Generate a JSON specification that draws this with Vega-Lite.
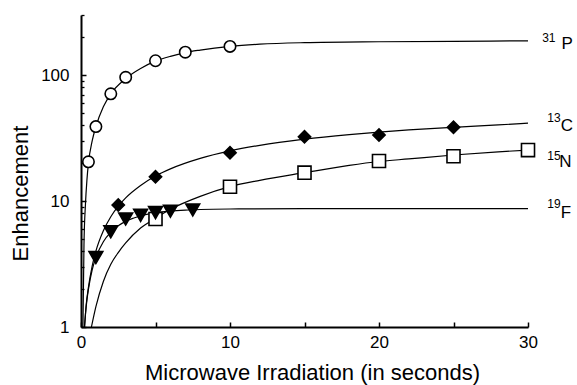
{
  "$schema": "https://vega.github.io/schema/vega-lite/v6.json",
  "width": 447,
  "height": 312,
  "autosize": "none",
  "padding": {"left": 81, "top": 15, "right": 49, "bottom": 58},
  "config": {
    "view": {"stroke": null},
    "font": "Liberation Sans",
    "axis": {"labelFont": "Liberation Sans", "titleFont": "Liberation Sans", "labelColor": "black", "titleColor": "black", "domainColor": "black", "tickColor": "black", "grid": false, "titleFontWeight": "normal"}
  },
  "resolve": {"axis": {"y": "independent"}},
  "layer": [
    {
      "data": {"values": [
        {"s": "31P", "t": 0.13, "E": 1}, {"s": "31P", "t": 0.2, "E": 4.5}, {"s": "31P", "t": 0.3, "E": 9.5}, {"s": "31P", "t": 0.4, "E": 14.8}, {"s": "31P", "t": 0.5, "E": 20}, {"s": "31P", "t": 0.75, "E": 30}, {"s": "31P", "t": 1, "E": 39}, {"s": "31P", "t": 1.5, "E": 56}, {"s": "31P", "t": 2, "E": 71}, {"s": "31P", "t": 3, "E": 94}, {"s": "31P", "t": 4, "E": 113}, {"s": "31P", "t": 5, "E": 129}, {"s": "31P", "t": 6, "E": 141}, {"s": "31P", "t": 7, "E": 151}, {"s": "31P", "t": 8, "E": 158}, {"s": "31P", "t": 10, "E": 169}, {"s": "31P", "t": 12, "E": 176}, {"s": "31P", "t": 15, "E": 181}, {"s": "31P", "t": 20, "E": 184}, {"s": "31P", "t": 25, "E": 185.5}, {"s": "31P", "t": 30, "E": 187},
        {"s": "13C", "t": 0.24, "E": 1}, {"s": "13C", "t": 0.35, "E": 1.5}, {"s": "13C", "t": 0.5, "E": 2.07}, {"s": "13C", "t": 0.75, "E": 3.05}, {"s": "13C", "t": 1, "E": 4.0}, {"s": "13C", "t": 1.5, "E": 5.8}, {"s": "13C", "t": 2, "E": 7.5}, {"s": "13C", "t": 2.5, "E": 9.1}, {"s": "13C", "t": 3, "E": 10.6}, {"s": "13C", "t": 4, "E": 13.3}, {"s": "13C", "t": 5, "E": 15.8}, {"s": "13C", "t": 6, "E": 18}, {"s": "13C", "t": 8, "E": 21.8}, {"s": "13C", "t": 10, "E": 25}, {"s": "13C", "t": 12, "E": 27.7}, {"s": "13C", "t": 15, "E": 31}, {"s": "13C", "t": 18, "E": 33.7}, {"s": "13C", "t": 20, "E": 35.3}, {"s": "13C", "t": 22, "E": 36.7}, {"s": "13C", "t": 25, "E": 38.5}, {"s": "13C", "t": 28, "E": 40.2}, {"s": "13C", "t": 30, "E": 41.5},
        {"s": "15N", "t": 0.7, "E": 1}, {"s": "15N", "t": 1, "E": 1.45}, {"s": "15N", "t": 1.5, "E": 2.3}, {"s": "15N", "t": 2, "E": 3.15}, {"s": "15N", "t": 2.5, "E": 3.9}, {"s": "15N", "t": 3, "E": 4.65}, {"s": "15N", "t": 4, "E": 6.1}, {"s": "15N", "t": 5, "E": 7.3}, {"s": "15N", "t": 6, "E": 8.6}, {"s": "15N", "t": 8, "E": 10.9}, {"s": "15N", "t": 10, "E": 13.0}, {"s": "15N", "t": 12, "E": 14.6}, {"s": "15N", "t": 15, "E": 16.8}, {"s": "15N", "t": 18, "E": 19.2}, {"s": "15N", "t": 20, "E": 20.6}, {"s": "15N", "t": 22, "E": 21.6}, {"s": "15N", "t": 25, "E": 23.2}, {"s": "15N", "t": 28, "E": 24.6}, {"s": "15N", "t": 30, "E": 25.4},
        {"s": "19F", "t": 0.23, "E": 1}, {"s": "19F", "t": 0.3, "E": 1.27}, {"s": "19F", "t": 0.4, "E": 1.65}, {"s": "19F", "t": 0.5, "E": 2.0}, {"s": "19F", "t": 0.75, "E": 2.84}, {"s": "19F", "t": 1, "E": 3.56}, {"s": "19F", "t": 1.5, "E": 4.75}, {"s": "19F", "t": 2, "E": 5.66}, {"s": "19F", "t": 2.5, "E": 6.37}, {"s": "19F", "t": 3, "E": 6.9}, {"s": "19F", "t": 3.5, "E": 7.3}, {"s": "19F", "t": 4, "E": 7.64}, {"s": "19F", "t": 5, "E": 8.07}, {"s": "19F", "t": 6, "E": 8.33}, {"s": "19F", "t": 7, "E": 8.48}, {"s": "19F", "t": 8, "E": 8.57}, {"s": "19F", "t": 10, "E": 8.65}, {"s": "19F", "t": 15, "E": 8.7}, {"s": "19F", "t": 30, "E": 8.7}
      ]},
      "mark": {"type": "line", "color": "black", "strokeWidth": 1.2, "interpolate": "monotone"},
      "encoding": {
        "x": {"field": "t", "type": "quantitative", "scale": {"domain": [0, 30], "nice": false, "zero": false},
          "axis": {"values": [0, 5, 10, 15, 20, 25, 30], "format": "d", "labelExpr": "datum.value % 10 == 0 ? datum.label : ''", "labelFontSize": 17, "labelPadding": 12, "tickSize": -5, "tickWidth": 1.5, "domainWidth": 2, "labelFlush": false,
            "title": "Microwave Irradiation (in seconds)", "titleFontSize": 22, "titleX": 231, "titleY": 52, "titleBaseline": "alphabetic", "titleAnchor": "start", "titleAlign": "center"}},
        "y": {"field": "E", "type": "quantitative", "scale": {"type": "log", "domain": [1, 300], "nice": false},
          "axis": {"values": [1, 10, 100], "format": "d", "labelFontSize": 17, "labelPadding": 17, "tickSize": -5, "tickWidth": 1.5, "domainWidth": 2, "labelBaseline": "middle",
            "title": "Enhancement", "titleFontSize": 22, "titleX": -54, "titleY": 178, "titleAngle": -90, "titleAlign": "center", "titleBaseline": "alphabetic", "titleAnchor": "start"}},
        "detail": {"field": "s", "type": "nominal"}
      }
    },
    {
      "data": {"values": [
        {"s": "31P", "t": 0.5, "E": 20.5}, {"s": "31P", "t": 1, "E": 39}, {"s": "31P", "t": 2, "E": 71}, {"s": "31P", "t": 3, "E": 96}, {"s": "31P", "t": 5, "E": 130}, {"s": "31P", "t": 7, "E": 152}, {"s": "31P", "t": 10, "E": 169},
        {"s": "15N", "t": 5, "E": 7.2}, {"s": "15N", "t": 10, "E": 13}, {"s": "15N", "t": 15, "E": 16.8}, {"s": "15N", "t": 20, "E": 20.8}, {"s": "15N", "t": 25, "E": 22.7}, {"s": "15N", "t": 30, "E": 25.4},
        {"s": "13C", "t": 2.5, "E": 9.3}, {"s": "13C", "t": 5, "E": 15.6}, {"s": "13C", "t": 10, "E": 24.2}, {"s": "13C", "t": 15, "E": 32.4}, {"s": "13C", "t": 20, "E": 33.4}, {"s": "13C", "t": 25, "E": 38.5},
        {"s": "19F", "t": 1, "E": 3.56}, {"s": "19F", "t": 2, "E": 5.7}, {"s": "19F", "t": 3, "E": 7.2}, {"s": "19F", "t": 4, "E": 7.7}, {"s": "19F", "t": 5, "E": 8.1}, {"s": "19F", "t": 6, "E": 8.3}, {"s": "19F", "t": 7.5, "E": 8.5}
      ]},
      "mark": {"type": "point", "filled": true, "stroke": "black", "strokeWidth": 1.6, "opacity": 1},
      "encoding": {
        "x": {"field": "t", "type": "quantitative"},
        "y": {"field": "E", "type": "quantitative", "axis": null},
        "shape": {"field": "s", "type": "nominal", "legend": null, "scale": {"domain": ["31P", "13C", "15N", "19F"], "range": ["circle", "diamond", "square", "triangle-down"]}},
        "fill": {"field": "s", "type": "nominal", "legend": null, "scale": {"domain": ["31P", "13C", "15N", "19F"], "range": ["white", "black", "white", "black"]}},
        "size": {"field": "s", "type": "nominal", "legend": null, "scale": {"domain": ["31P", "13C", "15N", "19F"], "range": [130, 190, 110, 140]}}
      }
    },
    {
      "data": {"values": [
        {"txt": "31", "t": 30.95, "E": 184.5}, {"txt": "13", "t": 31.3, "E": 42.6}, {"txt": "15", "t": 31.3, "E": 21.1}, {"txt": "19", "t": 31.3, "E": 8.78}
      ]},
      "mark": {"type": "text", "align": "left", "baseline": "alphabetic", "fontSize": 12, "font": "Liberation Sans", "color": "black"},
      "encoding": {
        "x": {"field": "t", "type": "quantitative"},
        "y": {"field": "E", "type": "quantitative", "axis": {"orient": "left", "values": [2, 3, 4, 5, 6, 7, 8, 9, 20, 30, 40, 50, 60, 70, 80, 90, 200, 300], "labels": false, "domain": false, "tickSize": -3, "tickWidth": 1.3, "title": null, "grid": false}},
        "text": {"field": "txt"}
      }
    },
    {
      "data": {"values": [
        {"txt": "P", "t": 32.25, "E": 160}, {"txt": "C", "t": 32.2, "E": 36.1}, {"txt": "N", "t": 32.1, "E": 18.7}, {"txt": "F", "t": 32.2, "E": 7.4}
      ]},
      "mark": {"type": "text", "align": "left", "baseline": "alphabetic", "fontSize": 17, "font": "Liberation Sans", "color": "black"},
      "encoding": {
        "x": {"field": "t", "type": "quantitative"},
        "y": {"field": "E", "type": "quantitative", "axis": null},
        "text": {"field": "txt"}
      }
    }
  ]
}
